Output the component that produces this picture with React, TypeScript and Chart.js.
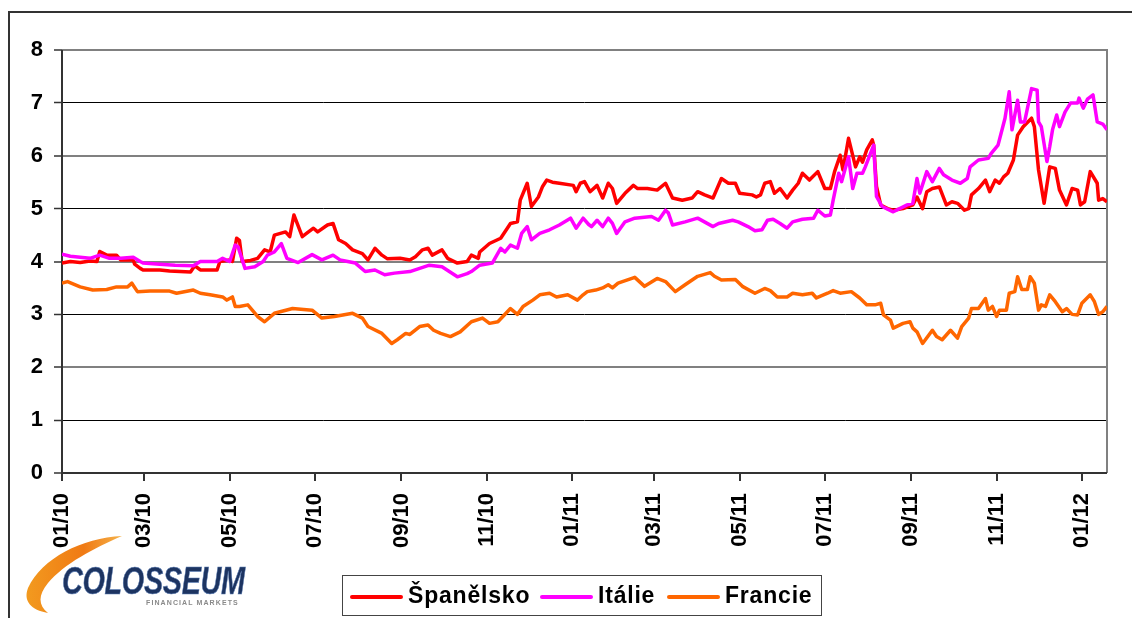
import React, { useEffect, useRef } from "react";
import { Chart, registerables } from "chart.js";

Chart.register(...registerables);

// Day offsets are counted from 1 January 2010.
const tickLabels = ["01/10", "03/10", "05/10", "07/10", "09/10", "11/10", "01/11", "03/11", "05/11", "07/11", "09/11", "11/11", "01/12"];
const xMaxDay = 748;
const yMin = 0;
const yMax = 8;

const seriesNames = ["Španělsko", "Itálie", "Francie"];
const seriesColors = ["#FF0000", "#FF00FF", "#FF6600"];

const spainDays = [0,6,13,20,25,27,32,39,42,51,52,56,58,70,77,92,95,99,111,113,120,122,125,127,129,135,140,145,149,152,160,163,166,172,175,180,183,190,194,198,203,208,215,219,224,229,233,242,249,253,258,262,265,272,276,283,290,293,298,299,306,314,321,326,328,333,336,341,344,347,351,356,366,368,371,374,378,383,387,391,394,397,403,409,412,419,426,432,437,444,451,455,460,466,472,477,482,485,494,497,500,503,507,510,514,519,523,527,530,535,541,546,550,553,557,559,563,568,571,573,576,580,581,583,586,591,595,602,609,612,616,619,623,628,633,637,641,646,649,651,656,661,664,668,671,674,677,681,684,688,694,696,699,703,707,711,714,719,723,727,729,732,736,741,742,745,748];
const spainValues = [3.97,4.0,3.98,4.01,4.0,4.19,4.12,4.12,4.03,4.03,3.95,3.87,3.84,3.84,3.82,3.80,3.92,3.84,3.84,4.0,4.03,4.0,4.44,4.40,4.0,4.02,4.06,4.22,4.18,4.50,4.56,4.47,4.88,4.47,4.53,4.63,4.56,4.69,4.72,4.41,4.34,4.22,4.15,4.03,4.25,4.12,4.05,4.06,4.03,4.09,4.22,4.25,4.12,4.22,4.06,3.97,4.0,4.12,4.06,4.18,4.34,4.44,4.72,4.75,5.16,5.48,5.04,5.22,5.42,5.54,5.50,5.48,5.44,5.32,5.48,5.51,5.32,5.44,5.20,5.48,5.38,5.10,5.29,5.44,5.38,5.38,5.35,5.48,5.20,5.16,5.20,5.32,5.26,5.20,5.57,5.48,5.48,5.29,5.26,5.22,5.26,5.48,5.51,5.29,5.38,5.20,5.35,5.48,5.67,5.54,5.70,5.38,5.38,5.70,6.01,5.73,6.33,5.79,5.98,5.88,6.11,6.30,6.20,5.42,5.07,5.0,4.97,5.0,5.07,5.22,5.0,5.32,5.38,5.41,5.07,5.13,5.10,4.97,5.0,5.26,5.38,5.54,5.32,5.54,5.48,5.60,5.67,5.92,6.39,6.55,6.71,6.55,5.73,5.10,5.79,5.76,5.35,5.07,5.38,5.35,5.07,5.13,5.70,5.48,5.16,5.19,5.13];

const italyDays = [0,6,13,20,27,34,42,51,56,58,70,81,94,99,111,115,120,124,126,131,138,144,147,152,157,161,169,179,186,194,199,210,217,224,231,238,249,256,263,272,283,290,293,299,308,314,317,321,326,329,333,336,342,349,356,364,368,373,377,379,383,387,391,394,397,403,410,422,427,432,434,437,446,455,466,470,480,484,491,496,501,505,509,514,519,523,530,538,541,546,550,552,556,558,563,566,569,573,575,581,583,587,595,605,609,612,614,619,623,628,631,637,643,648,650,656,663,665,670,675,678,680,684,686,689,694,698,699,701,705,707,709,712,714,718,722,727,728,731,734,738,741,745,748];
const italyValues = [4.14,4.10,4.08,4.06,4.12,4.06,4.06,4.08,4.0,3.97,3.95,3.93,3.92,4.0,4.0,4.06,4.0,4.31,4.28,3.87,3.90,4.0,4.12,4.18,4.34,4.06,3.98,4.13,4.03,4.12,4.03,3.97,3.81,3.84,3.75,3.78,3.81,3.87,3.93,3.90,3.71,3.77,3.81,3.93,3.97,4.25,4.18,4.31,4.25,4.53,4.66,4.41,4.53,4.60,4.69,4.82,4.63,4.82,4.70,4.66,4.78,4.66,4.82,4.72,4.53,4.75,4.82,4.85,4.78,4.97,4.92,4.69,4.75,4.82,4.66,4.72,4.78,4.75,4.66,4.58,4.60,4.78,4.80,4.72,4.63,4.75,4.80,4.82,4.97,4.86,4.88,5.16,5.67,5.51,5.98,5.38,5.67,5.67,5.79,6.20,5.23,5.04,4.94,5.07,5.10,5.57,5.29,5.70,5.51,5.76,5.64,5.54,5.48,5.57,5.79,5.92,5.95,6.04,6.20,6.71,7.21,6.49,7.05,6.64,6.64,7.27,7.24,6.64,6.55,5.89,6.17,6.49,6.77,6.55,6.83,7.0,7.0,7.09,6.90,7.07,7.15,6.64,6.60,6.49];

const franceDays = [0,4,13,22,32,39,47,50,54,63,77,82,94,99,106,115,118,122,124,127,133,140,145,152,165,179,186,195,208,215,219,229,236,240,246,249,256,262,266,271,278,285,293,301,306,312,321,326,330,337,342,349,354,362,369,373,376,382,387,391,394,398,410,417,426,432,439,446,455,464,467,472,482,487,496,503,507,512,519,523,530,537,540,548,552,557,565,571,576,582,586,588,593,595,602,607,609,612,616,623,626,630,636,641,644,649,651,656,661,663,666,669,671,676,678,682,684,687,691,693,696,699,701,704,707,711,716,719,723,727,730,736,739,742,745,748];
const franceValues = [3.59,3.62,3.52,3.46,3.47,3.52,3.52,3.59,3.43,3.44,3.44,3.40,3.46,3.40,3.37,3.33,3.27,3.33,3.15,3.15,3.18,2.96,2.86,3.02,3.11,3.08,2.93,2.96,3.02,2.93,2.77,2.64,2.45,2.52,2.64,2.62,2.77,2.80,2.70,2.64,2.58,2.67,2.86,2.93,2.83,2.86,3.11,3.0,3.15,3.27,3.37,3.40,3.33,3.37,3.27,3.37,3.43,3.46,3.50,3.56,3.50,3.59,3.70,3.53,3.68,3.62,3.43,3.56,3.72,3.79,3.72,3.65,3.66,3.53,3.40,3.49,3.45,3.33,3.33,3.40,3.37,3.40,3.31,3.40,3.45,3.40,3.43,3.31,3.18,3.18,3.21,2.99,2.89,2.74,2.83,2.86,2.74,2.67,2.45,2.70,2.58,2.52,2.70,2.55,2.77,2.93,3.11,3.11,3.30,3.08,3.15,2.96,3.08,3.08,3.40,3.43,3.71,3.47,3.47,3.71,3.59,3.08,3.18,3.15,3.37,3.24,3.05,3.11,3.0,2.99,3.21,3.37,3.24,3.0,3.05,3.15];

const FONT = "'Liberation Sans', Arial, Helvetica, sans-serif";

function labelToDay(label: string): number {
  const [m, y] = label.split("/").map(Number);
  return Math.round((Date.UTC(2000 + y, m - 1, 1) - Date.UTC(2010, 0, 1)) / 86400000);
}
const tickDays = tickLabels.map(labelToDay);

function zip(days: number[], values: number[]) {
  const n = Math.min(days.length, values.length);
  const out: { x: number; y: number }[] = [];
  for (let i = 0; i < n; i++) out.push({ x: days[i], y: values[i] });
  return out;
}

const framePlugin = {
  id: "plotFrame",
  beforeDatasetsDraw(chart: any) {
    const { ctx, chartArea: a } = chart;
    ctx.save();
    ctx.strokeStyle = "#808080";
    ctx.lineWidth = 2;
    ctx.beginPath();
    ctx.moveTo(a.left, a.top);
    ctx.lineTo(a.right, a.top);
    ctx.lineTo(a.right, a.bottom);
    ctx.stroke();
    ctx.strokeStyle = "#333";
    ctx.lineWidth = 2;
    ctx.beginPath();
    ctx.moveTo(a.left, a.top);
    ctx.lineTo(a.left, a.bottom);
    ctx.lineTo(a.right, a.bottom);
    ctx.stroke();
    ctx.restore();
  },
};

function ChartCanvas() {
  const ref = useRef<HTMLCanvasElement | null>(null);
  useEffect(() => {
    if (!ref.current) return;
    const seriesData = [zip(spainDays, spainValues), zip(italyDays, italyValues), zip(franceDays, franceValues)];
    const drawOrder = [2, 1, 3];
    const chart = new Chart(ref.current, {
      type: "line",
      data: {
        datasets: seriesData.map((d, i) => ({
          label: seriesNames[i],
          data: d,
          borderColor: seriesColors[i],
          backgroundColor: seriesColors[i],
          borderWidth: 3.5,
          pointRadius: 0,
          tension: 0,
          fill: false,
          order: drawOrder[i],
          borderJoinStyle: "round" as const,
        })),
      },
      options: {
        animation: false,
        responsive: false,
        devicePixelRatio: 1,
        layout: { padding: { top: 50, right: 25, left: 0, bottom: 0 } },
        plugins: { legend: { display: false }, tooltip: { enabled: false } },
        scales: {
          x: {
            type: "linear",
            min: 0,
            max: xMaxDay,
            afterBuildTicks: (s: any) => {
              s.ticks = tickDays.map((v) => ({ value: v }));
            },
            afterFit: (s: any) => {
              s.height = 145;
            },
            ticks: {
              autoSkip: false,
              minRotation: 90,
              maxRotation: 90,
              padding: 12,
              color: "#000",
              font: { family: FONT, size: 22, weight: "bold" },
              callback: (v: any) => {
                const idx = tickDays.indexOf(Number(v));
                return idx >= 0 ? tickLabels[idx] : "";
              },
            },
            grid: { drawOnChartArea: false, drawTicks: true, tickLength: 8, color: "#333", lineWidth: 2 },
            border: { display: false },
          },
          y: {
            min: yMin,
            max: yMax,
            afterFit: (s: any) => {
              s.width = 62;
            },
            ticks: {
              stepSize: 1,
              padding: 11,
              color: "#000",
              font: { family: FONT, size: 22, weight: "bold" },
            },
            grid: {
              color: (c: any) => (c.tick && c.tick.value % 2 === 1 ? "#000" : "#808080"),
              lineWidth: (c: any) => (c.tick && c.tick.value % 2 === 1 ? 1 : 2),
              tickLength: 8,
              tickColor: "#333",
              tickWidth: 1.5,
            },
            border: { display: false },
          },
        },
      },
      plugins: [framePlugin],
    } as any);
    return () => chart.destroy();
  }, []);
  return <canvas ref={ref} width={1132} height={618} style={{ position: "absolute", left: 0, top: 0, width: 1132, height: 618 }} />;
}

const legendItems = [
  { lineLeft: 350, textLeft: 408 },
  { lineLeft: 540, textLeft: 598 },
  { lineLeft: 667, textLeft: 725 },
];

export default function App() {
  return (
    <div style={{ position: "fixed", left: 0, top: 0, width: 1132, height: 618, background: "#fff", overflow: "hidden", fontFamily: FONT }}>
      <div style={{ position: "absolute", left: 8, top: 11, width: 1200, height: 700, borderLeft: "2px solid #333", borderTop: "2px solid #333" }} />
      <ChartCanvas />
      {/* legend */}
      <div style={{ position: "absolute", left: 342, top: 575, width: 480, height: 41, border: "1.5px solid #444", boxSizing: "border-box" }} />
      {legendItems.map((it, i) => (
        <React.Fragment key={i}>
          <div style={{ position: "absolute", left: it.lineLeft, top: 595, width: 53, height: 4, background: seriesColors[i], borderRadius: 2 }} />
          <span style={{ position: "absolute", left: it.textLeft, top: 582, fontSize: 23, lineHeight: "26px", fontWeight: "bold", letterSpacing: 0.8, color: "#000", whiteSpace: "nowrap" }}>
            {seriesNames[i]}
          </span>
        </React.Fragment>
      ))}
      {/* logo */}
      <svg style={{ position: "absolute", left: 0, top: 520, width: 140, height: 98 }} width={140} height={98} viewBox="0 520 140 98">
        <defs>
          <linearGradient id="sw" x1="0" y1="0" x2="1" y2="0">
            <stop offset="0" stopColor="#f29a1f" />
            <stop offset="0.6" stopColor="#f07a14" />
            <stop offset="1" stopColor="#f5b24a" />
          </linearGradient>
        </defs>
        <path d="M 122 536 C 82 538 42 558 28 588 C 23 601 31 610 48 613 C 38 605 38 595 48 583 C 64 564 94 548 122 536 Z" fill="url(#sw)" />
      </svg>
      <span style={{ position: "absolute", left: 62, top: 562, fontSize: 38, lineHeight: "38px", fontWeight: "bold", fontStyle: "italic", color: "#1d3461", transform: "scaleX(0.76)", transformOrigin: "left top", whiteSpace: "nowrap", letterSpacing: -0.5, WebkitTextStroke: "0.6px #5a7bb0" } as any}>
        COLOSSEUM
      </span>
      <span style={{ position: "absolute", left: 146, top: 599, fontSize: 7, lineHeight: "8px", fontWeight: "bold", color: "#8a8a8a", letterSpacing: 1.1, whiteSpace: "nowrap" }}>
        FINANCIAL MARKETS
      </span>
    </div>
  );
}
